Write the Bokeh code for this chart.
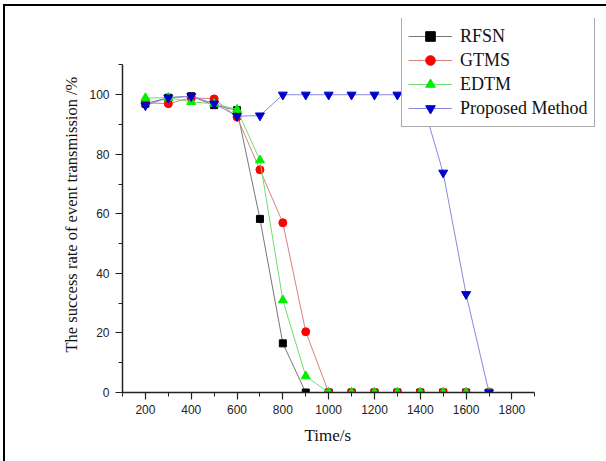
from bokeh.plotting import figure
from bokeh.models import Legend, LegendItem, Range1d, FixedTicker, InlineStyleSheet, Title
from bokeh.embed import file_html
from bokeh.resources import INLINE

# ---- data ----
time_s = [200, 300, 400, 500, 600, 700, 800, 900, 1000, 1100, 1200, 1300, 1400, 1500, 1600, 1700]
rfsn = [97, 99, 99.5, 96.5, 94.8, 58.3, 16.5, 0, 0, 0, 0, 0, 0, 0, 0, 0]
gtms = [97.3, 97, 99, 98.6, 92.5, 74.8, 57, 20.4, 0, 0, 0, 0, 0, 0, 0, 0]
edtm = [98.9, 99, 97.6, 97, 95, 78, 31, 5.5, 0, 0, 0, 0, 0, 0, 0, 0]
proposed = [96.4, 99, 99.5, 97, 92.8, 93, 100, 100, 100, 100, 100, 100, 100, 73.8, 33, 0]

series_names = ["RFSN", "GTMS", "EDTM", "Proposed Method"]
x_ticks = [200, 400, 600, 800, 1000, 1200, 1400, 1600, 1800]
y_ticks = [0, 20, 40, 60, 80, 100]
x_label = "Time/s"
y_label = "The success rate of event transmission /%"

frame_css = InlineStyleSheet(css="""
:host { position: relative; }
:host::after {
  content: "";
  position: absolute;
  left: 3px; top: 4px; width: 700px; height: 700px;
  border-left: 2px solid #000;
  border-top: 2px solid #000;
  pointer-events: none;
  box-sizing: border-box;
}
""")

# frame extends to the right edge / top so the legend is not clipped;
# the axes are limited with bounds to the original plot area
p = figure(frame_width=476, frame_height=374, output_backend="svg", toolbar_location=None,
           x_range=Range1d(100, 2178), y_range=Range1d(0, 125.6),
           min_border_left=122, min_border_right=0, min_border_top=18, min_border_bottom=61,
           stylesheets=[frame_css])
p.outline_line_color = None
p.grid.grid_line_color = None
p.background_fill_color = "white"
p.border_fill_color = "white"

styles = [
    (rfsn, "black", "#777777", "square", 7),
    (gtms, "#ff0000", "#d88080", "circle", 8),
    (edtm, "#00ee00", "#70dd70", "triangle", 9),
    (proposed, "#0000cc", "#8888dd", "inverted_triangle", 9),
]
items = []
for name, (vals, mc, lc, mk, sz) in zip(series_names, styles):
    r1 = p.line(time_s, vals, line_color=lc, line_width=1)
    r2 = p.scatter(time_s, vals, marker=mk, size=sz, fill_color=mc, line_color=mc)
    items.append(LegendItem(label=name, renderers=[r1, r2]))

legend = Legend(items=items, location=(279, 265),
                label_text_font="Liberation Serif", label_text_font_size="18px",
                label_text_color="#111111",
                glyph_width=44, glyph_height=24, label_height=24, spacing=0,
                padding=6, margin=0, label_standoff=8,
                border_line_color="#555555", border_line_width=1,
                background_fill_color="white", background_fill_alpha=1)
p.add_layout(legend, "center")

for ax in (p.xaxis[0], p.yaxis[0]):
    ax.axis_line_color = "#222222"
    ax.axis_line_width = 1.5
    ax.major_tick_line_color = "#222222"
    ax.minor_tick_line_color = "#222222"
    ax.major_tick_line_width = 1.2
    ax.major_tick_in = 0
    ax.major_tick_out = 7
    ax.minor_tick_in = 0
    ax.minor_tick_out = 4
    ax.major_label_text_font = "Liberation Sans"
    ax.major_label_text_font_size = "12px"
    ax.major_label_text_color = "#222222"

p.xaxis.bounds = (100, 1900)
p.yaxis.bounds = (0, 110)
p.xaxis.ticker = FixedTicker(ticks=x_ticks, minor_ticks=[100 + 100 * i for i in range(0, 19, 2)])
p.yaxis.ticker = FixedTicker(ticks=y_ticks, minor_ticks=[10, 30, 50, 70, 90, 110])
p.xaxis.major_label_standoff = 5
p.yaxis.major_label_standoff = 6

xt = Title(text=x_label, align="left", offset=182, standoff=15,
           text_font="Liberation Serif", text_font_style="normal",
           text_font_size="17px", text_color="#111111")
yt = Title(text=y_label, align="left", offset=40, standoff=12,
           text_font="Liberation Serif", text_font_style="normal",
           text_font_size="16.5px", text_color="#111111")
p.add_layout(xt, "below")
p.add_layout(yt, "left")

open("out.html", "w").write(file_html(p, INLINE))
